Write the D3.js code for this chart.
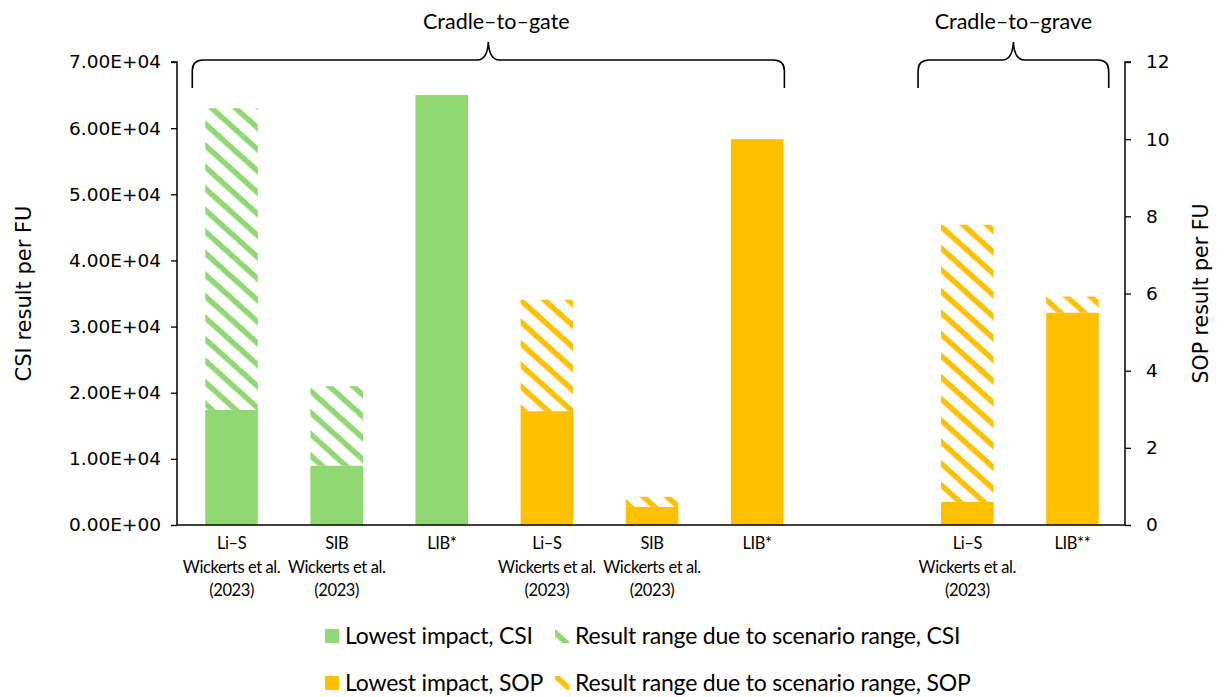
<!DOCTYPE html>
<html>
<head>
<meta charset="utf-8">
<script src="https://cdn.jsdelivr.net/npm/d3@7"></script>
<style>
  body { margin: 0; background: #fff; }
  svg { display: block; }
</style>
</head>
<body>
<svg id="chart"></svg>
<script>
// slots along the x axis (slot 6 is an empty gap between the two groups)
const categories = ["lis-gate-csi", "sib-gate-csi", "lib-gate-csi", "lis-gate-sop", "sib-gate-sop", "lib-gate-sop", "gap", "lis-grave-sop", "lib-grave-sop"];
const categoryLabels = [
  ["Li–S", "Wickerts et al.", "(2023)"],
  ["SIB", "Wickerts et al.", "(2023)"],
  ["LIB*"],
  ["Li–S", "Wickerts et al.", "(2023)"],
  ["SIB", "Wickerts et al.", "(2023)"],
  ["LIB*"],
  [],
  ["Li–S", "Wickerts et al.", "(2023)"],
  ["LIB**"]
];

// CSI (left axis)
const csiCategories = ["lis-gate-csi", "sib-gate-csi", "lib-gate-csi"];
const csiLowest = [17400, 8950, 65000];
const csiRangeTop = [63000, 21000, null];

// SOP (right axis)
const sopCategories = ["lis-gate-sop", "sib-gate-sop", "lib-gate-sop", "lis-grave-sop", "lib-grave-sop"];
const sopLowest = [2.95, 0.47, 10.0, 0.60, 5.50];
const sopRangeTop = [5.84, 0.73, null, 7.78, 5.92];

const csiTicks = [0, 10000, 20000, 30000, 40000, 50000, 60000, 70000];
const sopTicks = [0, 2, 4, 6, 8, 10, 12];

const groups = [
  { label: "Cradle–to–gate", from: "lis-gate-csi", to: "lib-gate-sop" },
  { label: "Cradle–to–grave", from: "lis-grave-sop", to: "lib-grave-sop" }
];
// how far each brace reaches past its outer bars (left, right)
const bracePad = [[13, 1], [23, 10]];

const legendItems = [
  { label: "Lowest impact, CSI", kind: "solid", color: "csi" },
  { label: "Result range due to scenario range, CSI", kind: "hatch", color: "csi" },
  { label: "Lowest impact, SOP", kind: "solid", color: "sop" },
  { label: "Result range due to scenario range, SOP", kind: "hatch", color: "sop" }
];

const colors = { csi: "#8fd872", sop: "#ffc000" };
const tickFont = "'DejaVu Sans', sans-serif";
const labelFont = "Lato, sans-serif";

const width = 1224, height = 697;
const margin = { top: 62, right: 99, bottom: 172, left: 177 };
const plotBottom = height - margin.bottom;

const svg = d3.select("#chart").attr("width", width).attr("height", height);

// hatch patterns
const defs = svg.append("defs");
Object.entries(colors).forEach(([key, c]) => {
  const p = defs.append("pattern")
    .attr("id", "hatch-" + key)
    .attr("patternUnits", "userSpaceOnUse")
    .attr("width", 16)
    .attr("height", 16)
    .attr("patternTransform", "rotate(42)");
  p.append("rect").attr("width", 16).attr("height", 16).attr("fill", "#fff");
  p.append("rect").attr("width", 16).attr("height", 5.5).attr("fill", c);
});

const x = d3.scaleBand()
  .domain(categories)
  .range([179, width - margin.right])
  .paddingInner(0.5)
  .paddingOuter(0.25);

const yL = d3.scaleLinear().domain([0, 70000]).range([plotBottom, margin.top]);
const yR = d3.scaleLinear().domain([0, 12]).range([plotBottom, margin.top]);

// bars
function drawBars(cats, lowest, rangeTop, y, key) {
  const rows = cats.map((c, i) => ({ c, low: lowest[i], top: rangeTop[i] }));
  const g = svg.append("g");
  g.selectAll(".hatch")
    .data(rows.filter(d => d.top != null))
    .join("rect")
    .attr("x", d => x(d.c))
    .attr("width", x.bandwidth())
    .attr("y", d => y(d.top))
    .attr("height", d => y(d.low) - y(d.top))
    .attr("fill", `url(#hatch-${key})`);
  g.selectAll(".solid")
    .data(rows)
    .join("rect")
    .attr("x", d => x(d.c))
    .attr("width", x.bandwidth())
    .attr("y", d => y(d.low))
    .attr("height", d => y(0) - y(d.low))
    .attr("fill", colors[key]);
}
drawBars(csiCategories, csiLowest, csiRangeTop, yL, "csi");
drawBars(sopCategories, sopLowest, sopRangeTop, yR, "sop");

// axes
const fmtE = d => d.toExponential(2).replace(/e([+-])(\d)$/, "e$10$2").toUpperCase();

const leftAxis = svg.append("g")
  .attr("transform", `translate(${margin.left},0)`)
  .call(d3.axisLeft(yL).tickValues(csiTicks).tickFormat(fmtE).tickSize(6).tickPadding(10));

const rightAxis = svg.append("g")
  .attr("transform", `translate(${width - margin.right},0)`)
  .call(d3.axisRight(yR).tickValues(sopTicks).tickSize(6).tickPadding(15));

[leftAxis, rightAxis].forEach(a => {
  a.select(".domain").attr("stroke", "#000").attr("stroke-width", 1.5)
    .attr("d", a === leftAxis ? `M-6,${margin.top}H0V${plotBottom}` : `M6,${margin.top}H0V${plotBottom}`);
  a.selectAll(".tick line").attr("stroke", "#000").attr("stroke-width", 1.3);
  a.selectAll(".tick text")
    .style("font-family", tickFont)
    .style("font-size", "18.5px")
    .attr("fill", "#000");
});

// x baseline
svg.append("line")
  .attr("x1", margin.left).attr("x2", width - margin.right)
  .attr("y1", plotBottom).attr("y2", plotBottom)
  .attr("stroke", "#000").attr("stroke-width", 1.5);

// category labels
categories.forEach((c, i) => {
  const t = svg.append("text")
    .attr("text-anchor", "middle")
    .style("font-family", labelFont)
    .style("font-size", "16.5px")
    .style("letter-spacing", "-0.4px")
    .attr("fill", "#000");
  categoryLabels[i].forEach((line, j) => {
    t.append("tspan")
      .attr("x", x(c) + x.bandwidth() / 2)
      .attr("y", 549 + j * 23.5)
      .text(line);
  });
});

// axis titles
svg.append("text")
  .attr("transform", `translate(31,${(margin.top + plotBottom) / 2}) rotate(-90)`)
  .attr("text-anchor", "middle")
  .style("font-family", tickFont)
  .style("font-size", "21px")
  .text("CSI result per FU");

svg.append("text")
  .attr("transform", `translate(1208,${(margin.top + plotBottom) / 2}) rotate(-90)`)
  .attr("text-anchor", "middle")
  .style("font-family", tickFont)
  .style("font-size", "20.5px")
  .text("SOP result per FU");

// group braces
groups.forEach((gr, i) => {
  const x0 = x(gr.from) - bracePad[i][0];
  const x1 = x(gr.to) + x.bandwidth() + bracePad[i][1];
  const xm = (x0 + x1) / 2;
  const yLine = 60, yEnd = 88, yTip = 42, r = 11;
  const p = d3.path();
  p.moveTo(x0, yEnd);
  p.lineTo(x0, yLine + r);
  p.quadraticCurveTo(x0, yLine, x0 + r, yLine);
  p.lineTo(xm - 11, yLine);
  p.quadraticCurveTo(xm - 1, yLine, xm, yTip);
  p.quadraticCurveTo(xm + 1, yLine, xm + 11, yLine);
  p.lineTo(x1 - r, yLine);
  p.quadraticCurveTo(x1, yLine, x1, yLine + r);
  p.lineTo(x1, yEnd);
  svg.append("path")
    .attr("d", p.toString())
    .attr("fill", "none")
    .attr("stroke", "#000")
    .attr("stroke-width", 1.6);
  svg.append("text")
    .attr("x", xm + (i === 0 ? 8 : 0))
    .attr("y", 29)
    .attr("text-anchor", "middle")
    .style("font-family", labelFont)
    .style("font-size", "21.5px")
    .text(gr.label);
});

// legend
const legendCols = [325, 555];
const legendRows = [636, 683];
legendItems.forEach((it, i) => {
  const lx = legendCols[i % 2], ly = legendRows[Math.floor(i / 2)];
  svg.append("rect")
    .attr("x", lx).attr("y", ly - 7)
    .attr("width", 14).attr("height", 14)
    .attr("fill", it.kind === "solid" ? colors[it.color] : `url(#hatch-${it.color})`);
  svg.append("text")
    .attr("x", lx + 20)
    .attr("y", ly + 8)
    .style("font-family", labelFont)
    .style("font-size", "23px")
    .style("letter-spacing", "-0.2px")
    .text(it.label);
});
</script>
</body>
</html>
